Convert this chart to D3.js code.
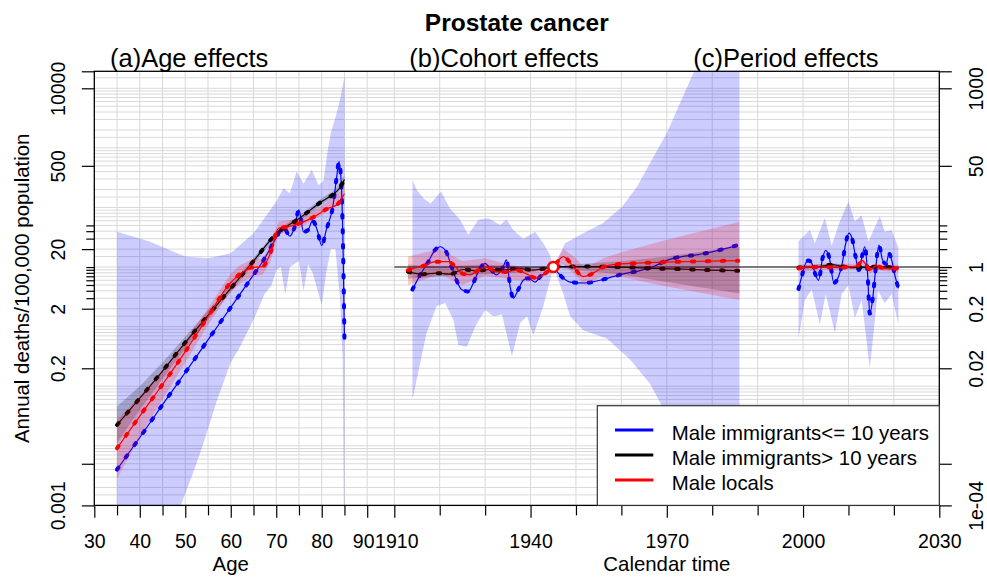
<!DOCTYPE html>
<html lang="en">
<head>
<meta charset="UTF-8">
<title>Prostate cancer APC</title>
<script src="https://d3js.org/d3.v7.min.js"></script>
<style>
  body { margin: 0; background: #fff; }
  svg { font-family: "Liberation Sans", Arial, sans-serif; }
  .tick line { stroke: #000; }
</style>
</head>
<body>
<div id="chart"></div>
<script>
// ---- data (rates per 100,000 for age; rate ratios for cohort / period) ----
const seriesNames = ["Male immigrants<= 10 years", "Male immigrants> 10 years", "Male locals"];
const seriesColors = ["#0000ff", "#000000", "#ff0000"];

// age effects  [age, rate]
const ageBlue = [[35,0.0040],[40,0.0138],[45,0.049],[50,0.17],[55,0.60],[60,2.1],[65,7.4],[67,12.3],[70,31],[71.5,48],[73,33],[74,46],[75,91],[76,39],[77,42],[78,60],[79,42],[80,23],[81,42],[82.5,110],[83.3,330],[83.8,590],[84.3,250],[84.7,20],[85,0.65]];
const ageBlueHi = [[35,39],[42,27],[50,15],[55,14],[60,17],[63,27],[65,37],[68,76],[70,126],[71.6,210],[73,174],[74.5,400],[76,250],[77.8,430],[79.3,235],[80.4,280],[81.2,800],[82,1800],[83,3200],[84,6300],[85,16000]];
const ageBlueLo = [[35,3e-5],[45,2.5e-4],[49,0.001],[52,0.004],[54,0.011],[57,0.059],[60,0.25],[62,0.45],[65,1.3],[67.5,3.6],[69,5],[70,8.9],[71,10],[72,3.5],[73,10],[75,12.6],[76,4],[77,11],[78,8],[80,2.3],[81,8],[82,20],[83,20],[84,3.2],[84.6,0.3],[85,3e-5]];
const ageBlack = [[35,0.0224],[40,0.063],[45,0.18],[50,0.54],[55,1.55],[60,4.4],[65,12.6],[70,36],[75,65],[80,126],[83,178],[84,214],[85,295]];
const ageBlackCI = [[35,0.0112,0.0457],[40,0.040,0.10],[45,0.132,0.251],[50,0.427,0.676],[55,1.29,1.86],[60,3.8,5.0],[65,11.2,14.1],[70,32.4,40.7],[75,58.9,72.4],[80,112,141],[83,158,200],[85,251,347]];
const ageRed = [[35,0.0091],[40,0.0316],[45,0.107],[50,0.38],[55,1.48],[60,5.5],[62,7.6],[64.5,9.8],[67,10.2],[68.6,16.2],[70.5,44.7],[72.7,47.9],[75,53.7],[78,67.6],[81.5,97.7],[83.3,110],[85,170]];
const ageRedCI = [[35,0.0028,0.027],[40,0.0141,0.068],[45,0.060,0.182],[50,0.25,0.56],[55,1.07,2.04],[60,3.9,7.8],[62,5.2,10.7],[65,7.1,13.8],[67,7.4,13.8],[68.6,11.5,22.9],[70.5,35.5,57.5],[75,44.7,64.6],[80,74,107],[85,132,214]];

// cohort effects  [year, RR]
const cohortBlue = [[1914,0.42],[1915.7,0.74],[1917.5,1.23],[1919,1.95],[1920.1,2.19],[1921.4,1.82],[1922.6,1.02],[1923.7,0.60],[1924.8,0.42],[1926.3,0.39],[1927.4,0.54],[1928.5,0.83],[1930,1.15],[1931.1,0.95],[1932.5,0.74],[1934,1.02],[1934.7,1.32],[1935.5,0.47],[1936.2,0.30],[1937.3,0.42],[1938.4,0.60],[1939.5,0.65],[1941,0.56],[1942.1,0.69],[1943.6,0.83],[1945,1],[1946.1,0.79],[1948.7,0.56],[1952,0.54],[1955.3,0.60],[1958.2,0.69],[1961.2,0.79],[1964.1,0.87],[1967,1.02],[1970.3,1.32],[1973.3,1.50],[1976.2,1.59],[1979.1,1.74],[1982.4,2.0],[1985.7,2.34]];
const cohortBlueHi = [[1914,29],[1915,19.5],[1916.5,14],[1918,11.7],[1920.3,18.6],[1922.3,9.5],[1924.5,6.2],[1926.3,3.5],[1928.5,6.2],[1930.7,6.6],[1933.3,5.1],[1934.7,6.3],[1936.2,4.2],[1938.4,3.0],[1941,3.9],[1942.8,2.5],[1944.3,1.6],[1945,1],[1947.6,2.5],[1951.6,3.7],[1956,5.5],[1960.1,10.2],[1963.4,22],[1966.3,55],[1970,178],[1972.9,560],[1975.8,1780],[1986,31600]];
const cohortBlueLo = [[1914,0.006],[1917.1,0.078],[1919.3,0.22],[1921.2,0.25],[1923,0.13],[1924.1,0.049],[1926,0.046],[1927.8,0.1],[1930,0.19],[1931.8,0.15],[1933.7,0.16],[1935.9,0.032],[1937.7,0.115],[1939.2,0.15],[1940.6,0.072],[1942.8,0.22],[1944.3,0.6],[1945,1],[1947.2,0.36],[1948.7,0.15],[1951.6,0.087],[1956.8,0.063],[1961.9,0.028],[1966.3,0.011],[1968.5,0.0054],[1975,0.0005],[1986,0.00001]];
const cohortBlack = [[1913,0.83],[1916.4,0.76],[1919.3,0.79],[1922.3,0.76],[1925.2,0.91],[1928.1,0.87],[1931.1,0.91],[1934,0.89],[1937.3,0.95],[1940.6,0.89],[1943.3,0.95],[1945,1],[1946.5,1.02],[1952.4,1.02],[1961.2,0.99],[1967,0.95],[1973.6,0.92],[1979.5,0.89],[1985.7,0.87]];
const cohortBlackCI = [[1913,0.63,1.10],[1920,0.70,1.02],[1930,0.76,1.10],[1940,0.82,1.0],[1943,0.89,1.02],[1945,1,1],[1950,0.89,1.12],[1960,0.75,1.25],[1970,0.56,1.51],[1986,0.36,2.19]];
const cohortRed = [[1913,0.89],[1916.4,1.05],[1919.3,1.23],[1921.9,1.23],[1923.4,1.02],[1924.8,0.79],[1926.7,0.74],[1928.5,0.89],[1930.4,1.0],[1932.5,0.83],[1934.7,0.83],[1937,0.89],[1939.2,0.76],[1941.4,0.65],[1943.3,0.79],[1945,1],[1947.2,1.50],[1949.4,1.02],[1951.6,0.69],[1953.8,0.79],[1956,1],[1959,1.12],[1963.4,1.16],[1967.8,1.20],[1973.6,1.23],[1979.5,1.26],[1985.7,1.28]];
const cohortRedCI = [[1913,0.50,1.50],[1920,0.76,2.0],[1925,0.50,1.26],[1930,0.71,1.41],[1935,0.63,1.12],[1940,0.56,0.95],[1943,0.71,1.0],[1945,1,1],[1947.2,1.12,2.0],[1950,0.71,1.41],[1952,0.50,0.95],[1956,0.71,1.41],[1960,0.68,1.78],[1970,0.47,2.88],[1986,0.28,5.75]];
const cohortRef = [[1945, 1]];

// period effects  [year, RR]
const periodBlue = [[1999,0.43],[1999.7,0.69],[2000.5,1.12],[2001.2,1.29],[2002,1.12],[2002.7,0.76],[2003.4,0.60],[2004.3,1.41],[2005,1.91],[2005.8,1.41],[2006.8,0.54],[2007.8,0.69],[2008.6,1.12],[2009.4,2.51],[2010.1,3.72],[2010.8,3.02],[2011.5,1.58],[2012.3,0.89],[2013.1,1.66],[2013.6,2.19],[2014.2,0.79],[2014.7,0.166],[2015.3,0.28],[2015.9,0.79],[2016.7,2.34],[2017.5,1.32],[2018.3,1.12],[2018.9,1.70],[2019.5,1.32],[2020.2,0.74],[2021,0.44]];
const periodBlueHi = [[1999,2.7],[2001.5,4.2],[2002.6,2.5],[2004.8,6.6],[2006.3,2.3],[2008.1,5.8],[2010,12.6],[2011.4,5.8],[2012.9,7.4],[2014.4,2.7],[2015.2,3.7],[2016.9,7.1],[2018,3.9],[2019.5,4.2],[2021,2.1]];
const periodBlueLo = [[1999,0.063],[2000.4,0.28],[2001.9,0.42],[2003.7,0.11],[2005,0.35],[2007,0.079],[2008.5,0.35],[2010,0.50],[2011.4,0.14],[2012.9,0.28],[2014.7,0.02],[2016.5,0.40],[2018,0.25],[2019.5,0.35],[2021,0.11]];
const periodBlack = [[1999,0.98],[2003,1.0],[2006.5,1.1],[2008,1.05],[2011,0.98],[2014,1.0],[2017,1.02],[2021,0.95]];
const periodBlackCI = [[1999,0.92,1.05],[2006.5,1.03,1.17],[2011,0.93,1.04],[2021,0.88,1.03]];
const periodRed = [[1999,0.95],[2001,1.0],[2004,1.0],[2008,0.98],[2010,1.0],[2012,1.05],[2013,1.29],[2014,1.05],[2014.8,0.89],[2016,1.05],[2018,0.95],[2021,0.95]];
const periodRedCI = [[1999,0.83,1.10],[2005,0.90,1.10],[2012,0.92,1.15],[2013,1.12,1.45],[2014,0.92,1.18],[2014.8,0.78,1.0],[2016,0.92,1.15],[2018,0.85,1.07],[2021,0.83,1.10]];

// axes
const leftTicks = [0.001, 0.005, 0.2, 2, 20, 500, 10000];
const leftLabels = ["0.001", "", "0.2", "2", "20", "500", "10000"];
const leftMinor = [3, 4, 5, 6, 7, 8, 9, 10, 30, 40, 50];
const rightTicks = [1e-4, 5e-4, 0.02, 0.2, 1, 50, 1000];
const rightLabels = ["1e-04", "", "0.02", "0.2", "1", "50", "1000"];
const rightMinor = [0.3, 0.4, 0.5, 0.6, 0.7, 0.8, 0.9, 2, 3, 4, 5];
const ageTicks = [30, 40, 50, 60, 70, 80, 90];
const ageMinor = [35, 45, 55, 65, 75, 85];
const calTicks = [1910, 1940, 1970, 2000, 2030];
const calMinor = [1920, 1930, 1950, 1960, 1980, 1990, 2010, 2020];
const gridMult = [1, 1.5, 2, 3, 4, 5, 6, 7, 8, 9];
const ageGrid = [35, 40, 45, 50, 55, 60, 65, 70, 75, 80, 85, 90];
const calGrid = [1910, 1920, 1930, 1940, 1950, 1960, 1970, 1980, 1990, 2000, 2010, 2020];

// ---- layout ----
const width = 987, height = 581;
const P = {left: 94.3, top: 71.3, right: 939.3, bottom: 505.4};

const svg = d3.select("#chart").append("svg")
    .attr("width", width).attr("height", height);

const y = d3.scaleLog().domain([0.001, 19290]).range([P.bottom, P.top]);
const yR = d3.scaleLog().domain([0.0001, 1929]).range([P.bottom, P.top]);
const xA = d3.scaleLinear().domain([30, 90]).range([P.left, 367.2]);
const xC = d3.scaleLinear().domain([1910, 2030]).range([394.3, P.right]);

svg.append("defs").append("clipPath").attr("id", "clip")
  .append("rect").attr("x", P.left).attr("y", P.top)
  .attr("width", P.right - P.left).attr("height", P.bottom - P.top);

// grid
const grid = svg.append("g").attr("stroke", "#d9d9d9").attr("stroke-width", 1);
const hVals = [];
for (let k = -3; k <= 4; k++) gridMult.forEach(m => hVals.push(m * Math.pow(10, k)));
grid.selectAll(".h").data(hVals.filter(v => y(v) >= P.top)).join("line")
    .attr("x1", P.left).attr("x2", P.right)
    .attr("y1", d => y(d)).attr("y2", d => y(d));
grid.selectAll(".va").data(ageGrid).join("line").attr("class", "va")
    .attr("x1", d => xA(d)).attr("x2", d => xA(d)).attr("y1", P.top).attr("y2", P.bottom);
grid.selectAll(".vc").data(calGrid).join("line").attr("class", "vc")
    .attr("x1", d => xC(d)).attr("x2", d => xC(d)).attr("y1", P.top).attr("y2", P.bottom);

const plot = svg.append("g").attr("clip-path", "url(#clip)");

function band(hi, lo, xs, ys, color, op) {
    const pts = hi.map(d => [xs(d[0]), ys(d[1])])
        .concat(lo.slice().reverse().map(d => [xs(d[0]), ys(d[1])]));
    plot.append("path").attr("d", d3.line()(pts) + "Z")
        .attr("fill", color).attr("fill-opacity", op);
}
function bandCI(ci, xs, ys, color, op) {
    const area = d3.area().x(d => xs(d[0])).y0(d => ys(d[1])).y1(d => ys(d[2]));
    plot.append("path").datum(ci).attr("d", area)
        .attr("fill", color).attr("fill-opacity", op);
}
function series(data, xs, ys, color) {
    const line = d3.line().x(d => xs(d[0])).y(d => ys(d[1])).curve(d3.curveMonotoneX);
    plot.append("path").datum(data).attr("d", line)
        .attr("fill", "none").attr("stroke", color).attr("stroke-width", 1.2);
    plot.append("path").datum(data).attr("d", line)
        .attr("fill", "none").attr("stroke", color).attr("stroke-width", 4)
        .attr("stroke-linecap", "round").attr("stroke-dasharray", "2.5,12.5");
}

// age panel
band(ageBlueHi, ageBlueLo, xA, y, "#0000ff", 0.2);
series(ageBlue, xA, y, "#0000ff");
bandCI(ageBlackCI, xA, y, "#000000", 0.2);
series(ageBlack, xA, y, "#000000");
bandCI(ageRedCI, xA, y, "#ff0000", 0.2);
series(ageRed, xA, y, "#ff0000");

// reference line RR = 1
plot.append("line").attr("x1", xC(1910)).attr("x2", P.right)
    .attr("y1", yR(1)).attr("y2", yR(1)).attr("stroke", "#555").attr("stroke-width", 1.6);

// cohort panel
band(cohortBlueHi, cohortBlueLo, xC, yR, "#0000ff", 0.2);
series(cohortBlue, xC, yR, "#0000ff");
bandCI(cohortBlackCI, xC, yR, "#000000", 0.2);
series(cohortBlack, xC, yR, "#000000");
bandCI(cohortRedCI, xC, yR, "#ff0000", 0.2);
series(cohortRed, xC, yR, "#ff0000");

// period panel
band(periodBlueHi, periodBlueLo, xC, yR, "#0000ff", 0.2);
series(periodBlue, xC, yR, "#0000ff");
bandCI(periodBlackCI, xC, yR, "#000000", 0.2);
series(periodBlack, xC, yR, "#000000");
bandCI(periodRedCI, xC, yR, "#ff0000", 0.2);
series(periodRed, xC, yR, "#ff0000");

plot.selectAll(".ref").data(cohortRef).join("circle")
    .attr("cx", d => xC(d[0])).attr("cy", d => yR(d[1])).attr("r", 5)
    .attr("fill", "#fff").attr("stroke", "#ff0000").attr("stroke-width", 2.6);

// frame
svg.append("rect").attr("x", P.left).attr("y", P.top)
    .attr("width", P.right - P.left).attr("height", P.bottom - P.top)
    .attr("fill", "none").attr("stroke", "#000").attr("stroke-width", 1.3);

// axes
const fs = "19.5px";
function styleAxis(g) { g.select(".domain").remove(); g.selectAll("line").attr("stroke-width", 1.2); }

const gL = svg.append("g").attr("transform", `translate(${P.left},0)`)
    .call(d3.axisLeft(y).tickValues(leftTicks.concat([y.domain()[1]])).tickSize(12.5)
        .tickFormat(d => { const i = leftTicks.indexOf(d); return i < 0 ? "" : leftLabels[i]; }))
    .call(styleAxis);
gL.selectAll("text").attr("x", null).attr("dy", null).attr("text-anchor", "middle")
    .attr("transform", "translate(-29.3,0) rotate(-90)").attr("font-size", fs).attr("fill", "#000");
svg.append("g").attr("transform", `translate(${P.left},0)`)
    .call(d3.axisLeft(y).tickValues(leftMinor).tickSize(8).tickFormat(""))
    .call(styleAxis);

const gR = svg.append("g").attr("transform", `translate(${P.right},0)`)
    .call(d3.axisRight(yR).tickValues(rightTicks.concat([yR.domain()[1]])).tickSize(12.5)
        .tickFormat(d => { const i = rightTicks.indexOf(d); return i < 0 ? "" : rightLabels[i]; }))
    .call(styleAxis);
gR.selectAll("text").attr("x", null).attr("dy", null).attr("text-anchor", "middle")
    .attr("transform", "translate(44,0) rotate(-90)").attr("font-size", fs).attr("fill", "#000");
svg.append("g").attr("transform", `translate(${P.right},0)`)
    .call(d3.axisRight(yR).tickValues(rightMinor).tickSize(8).tickFormat(""))
    .call(styleAxis);

function bottomAxis(scale, major, minor, nudge) {
    const g = svg.append("g").attr("transform", `translate(0,${P.bottom})`)
        .call(d3.axisBottom(scale).tickValues(major).tickSize(12.3).tickFormat(d3.format("d")))
        .call(styleAxis);
    g.selectAll("text").attr("y", 42.6).attr("dy", null).attr("font-size", fs).attr("fill", "#000")
        .attr("dx", d => nudge[d] || 0);
    svg.append("g").attr("transform", `translate(0,${P.bottom})`)
        .call(d3.axisBottom(scale).tickValues(minor).tickSize(10).tickFormat(""))
        .call(styleAxis);
}
// "90" and "1910" sit almost on top of each other, as in the original
bottomAxis(xA, ageTicks, ageMinor, {90: -4});
bottomAxis(xC, calTicks, calMinor, {1910: 2});

// titles
svg.append("text").attr("x", (P.left + P.right) / 2).attr("y", 31)
    .attr("text-anchor", "middle").attr("font-size", "24.5px").attr("font-weight", "bold")
    .text("Prostate cancer");
const panelTitles = [["(a)Age effects", 110], ["(b)Cohort effects", 409.3], ["(c)Period effects", 693.3]];
svg.selectAll(".pt").data(panelTitles).join("text")
    .attr("x", d => d[1]).attr("y", 66.5).attr("font-size", "25.5px").text(d => d[0]);
svg.append("text").attr("x", xA(60)).attr("y", 571).attr("text-anchor", "middle")
    .attr("font-size", "20.4px").text("Age");
svg.append("text").attr("x", xC(1970)).attr("y", 571).attr("text-anchor", "middle")
    .attr("font-size", "20.4px").text("Calendar time");
svg.append("text").attr("transform", `translate(29,${(P.top + P.bottom) / 2}) rotate(-90)`)
    .attr("text-anchor", "middle").attr("font-size", "20.4px")
    .text("Annual deaths/100,000 population");

// legend
const lg = svg.append("g");
lg.append("rect").attr("x", 597.3).attr("y", 405.7)
    .attr("width", P.right - 597.3).attr("height", P.bottom - 405.7)
    .attr("fill", "#fff").attr("stroke", "#333").attr("stroke-width", 1.2);
const rows = lg.selectAll(".row").data(seriesNames).join("g")
    .attr("transform", (d, i) => `translate(0,${430 + i * 25})`);
rows.append("line").attr("x1", 615).attr("x2", 653.3)
    .attr("stroke", (d, i) => seriesColors[i]).attr("stroke-width", 3);
rows.append("text").attr("x", 671.7).attr("y", 10).attr("font-size", "20.4px").text(d => d);
</script>
</body>
</html>
